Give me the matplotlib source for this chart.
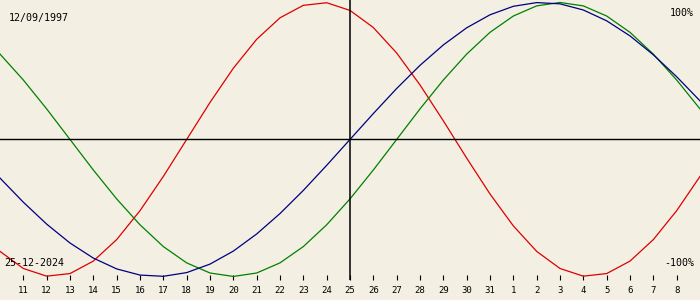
import matplotlib.pyplot as plt

# biorhythm values in percent, one point per day (10 Dec .. 9 Jan)
days = [10, 11, 12, 13, 14, 15, 16, 17, 18, 19, 20, 21, 22, 23, 24, 25, 26, 27,
        28, 29, 30, 31, 1, 2, 3, 4, 5, 6, 7, 8, 9]
physical = [-81.7, -94.2, -99.8, -97.9, -88.8, -73.1, -52.0, -27.0, 0.0, 27.0,
            52.0, 73.1, 88.8, 97.9, 99.8, 94.2, 81.7, 63.1, 39.8, 13.6, -13.6,
            -39.8, -63.1, -81.7, -94.2, -99.8, -97.9, -88.8, -73.1, -52.0, -27.0]
emotional = [62.3, 43.4, 22.3, 0.0, -22.3, -43.4, -62.3, -78.2, -90.1, -97.5,
             -100.0, -97.5, -90.1, -78.2, -62.3, -43.4, -22.3, 0.0, 22.3, 43.4,
             62.3, 78.2, 90.1, 97.5, 100.0, 97.5, 90.1, 78.2, 62.3, 43.4, 22.3]
intellectual = [-28.2, -45.8, -61.8, -75.6, -86.6, -94.5, -99.0, -99.9, -97.2,
                -91.0, -81.5, -69.0, -54.1, -37.2, -18.9, 0.0, 18.9, 37.2, 54.1,
                69.0, 81.5, 91.0, 97.2, 99.9, 99.0, 94.5, 86.6, 75.6, 61.8, 45.8, 28.2]
birth_date = "12/09/1997"
current_date = "25-12-2024"
center = 15

bg = "#f3efe3"
mono = "DejaVu Sans Mono"

fig = plt.figure(figsize=(7, 3), dpi=100, facecolor=bg)
ax = fig.add_axes([0, 20 / 300, 1, 280 / 300])
ax.set_facecolor(bg)

x = list(range(len(days)))
ax.plot(x, physical, color="#dd0000", lw=0.9)
ax.plot(x, emotional, color="#008000", lw=0.9)
ax.plot(x, intellectual, color="#000080", lw=0.9)

ax.axhline(0, color="black", lw=1)
ax.axvline(center, color="black", lw=1.1)

ax.set_xlim(0, len(days) - 1)
ax.set_ylim(-102.6, 101.8)
for s in ax.spines.values():
    s.set_visible(False)
ax.set_yticks([])
ax.set_xticks(x[1:-1])
ax.set_xticklabels([str(d) for d in days[1:-1]], fontfamily=mono, fontsize=6.5)
ax.tick_params(axis="x", direction="in", length=3.6, width=0.8, color="black", pad=4)

fig.text(9 / 700, 1 - 21 / 300, birth_date, fontfamily=mono, fontsize=7.2,
         va="baseline", ha="left")
fig.text(694 / 700, 1 - 16 / 300, "100%", fontfamily=mono, fontsize=7.2,
         va="baseline", ha="right")
fig.text(4 / 700, 1 - 266 / 300, current_date, fontfamily=mono, fontsize=7.2,
         va="baseline", ha="left")
fig.text(694 / 700, 1 - 266 / 300, "-100%", fontfamily=mono, fontsize=7.2,
         va="baseline", ha="right")

fig.savefig("out.png", dpi=100, facecolor=bg)
